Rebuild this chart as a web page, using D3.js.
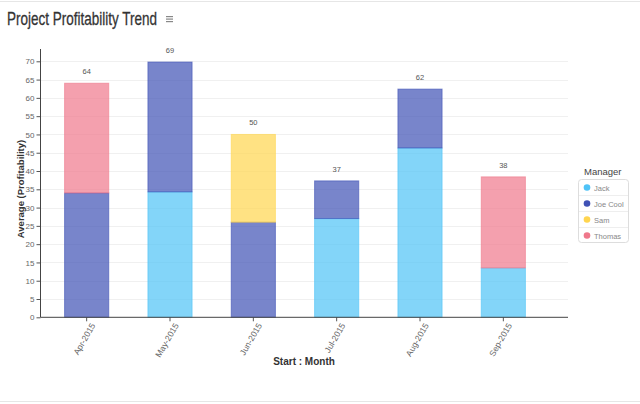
<!DOCTYPE html>
<html><head><meta charset="utf-8">
<script src="https://cdn.jsdelivr.net/npm/d3@7"></script>
<style>
body{margin:0;background:#fff;}
svg{display:block;font-family:"Liberation Sans",Arial,sans-serif;}
</style></head>
<body><svg id="c" width="640" height="404"></svg>
<script>
const months = ["Apr-2015","May-2015","Jun-2015","Jul-2015","Aug-2015","Sep-2015"];
const managers = ["Jack","Joe Cool","Sam","Thomas"];
const jack    = [0, 34.3, 0, 27.0, 46.3, 13.5];
const joeCool = [34.0, 35.5, 26.0, 10.3, 16.1, 0];
const sam     = [0, 0, 24.0, 0, 0, 0];
const thomas  = [30.0, 0, 0, 0, 0, 24.9];
const colors  = ["#4fc3f7","#3f51b5","#ffd54f","#ef788b"];
const yTicks  = d3.range(0, 75, 5);

const series = [jack, joeCool, sam, thomas];
const rows = months.map((m,i)=>{const o={month:m}; managers.forEach((k,j)=>o[k]=series[j][i]); return o;});
const stack = d3.stack().keys(managers)(rows);

const svg = d3.select("#c");
svg.append("line").attr("x1",0).attr("x2",640).attr("y1",1.5).attr("y2",1.5).attr("stroke","#e6e6e6");
svg.append("line").attr("x1",0).attr("x2",640).attr("y1",401.5).attr("y2",401.5).attr("stroke","#e6e6e6");

const x0=40.5, x1=568, yBottom=317.3;
const x = d3.scaleBand().domain(months).range([45,545]).paddingInner(0.47).paddingOuter(0.235);
const y = d3.scaleLinear().domain([0,70]).range([yBottom,61.3]);

svg.append("g").selectAll("line").data(yTicks.filter(d=>d>0)).join("line")
  .attr("x1",x0).attr("x2",x1).attr("y1",d=>Math.round(y(d))+0.5).attr("y2",d=>Math.round(y(d))+0.5)
  .attr("stroke","#f0f0f0");

const g = svg.append("g");
stack.forEach((s,j)=>{
  g.selectAll(null).data(s.filter(d=>d[1]-d[0]>0)).join("rect")
    .attr("x",d=>x(d.data.month)).attr("width",x.bandwidth())
    .attr("y",d=>y(d[1])).attr("height",d=>y(d[0])-y(d[1]))
    .attr("fill",colors[j]).attr("fill-opacity",0.7)
    .attr("stroke",colors[j]).attr("stroke-opacity",0.6).attr("stroke-width",1);
});

const totals = months.map((m,i)=>series.reduce((a,s)=>a+s[i],0));
svg.append("g").selectAll("text").data(months).join("text")
  .attr("x",d=>x(d)+x.bandwidth()/2).attr("y",(d,i)=>y(totals[i])-9)
  .attr("text-anchor","middle").attr("font-size",7.5).attr("fill","#555")
  .text((d,i)=>Math.floor(totals[i]));

const ya = svg.append("g").attr("transform",`translate(${x0},0)`)
  .call(d3.axisLeft(y).tickValues(yTicks).tickSize(4).tickPadding(2));
ya.select(".domain").remove();
ya.selectAll(".tick line").attr("stroke","#555");
ya.selectAll(".tick text").attr("font-size",8).attr("fill","#666").attr("font-family","Liberation Sans,Arial,sans-serif");
svg.append("line").attr("x1",x0).attr("x2",x0).attr("y1",49).attr("y2",yBottom).attr("stroke","#444");

const xa = svg.append("g").attr("transform",`translate(0,${yBottom})`)
  .call(d3.axisBottom(x).tickSize(4).tickSizeOuter(0));
xa.select(".domain").remove();
xa.selectAll(".tick line").attr("stroke","#555");
xa.selectAll(".tick text").attr("font-size",8.5).attr("fill","#666").attr("font-family","Liberation Sans,Arial,sans-serif")
  .attr("text-anchor","end").attr("dy",0).attr("y",0)
  .attr("transform","translate(9,8) rotate(-60)");
svg.append("line").attr("x1",x0).attr("x2",x1).attr("y1",yBottom).attr("y2",yBottom).attr("stroke","#444");

svg.append("text").attr("transform","translate(23.5,189) rotate(-90)").attr("text-anchor","middle")
  .attr("font-size",9.5).attr("font-weight","bold").attr("fill","#333").text("Average (Profitability)");
svg.append("text").attr("x",304).attr("y",365).attr("text-anchor","middle")
  .attr("font-size",10).attr("font-weight","bold").attr("fill","#333").text("Start : Month");

svg.append("text").attr("x",7).attr("y",24.5).attr("font-size",19)
  .attr("textLength",150).attr("lengthAdjust","spacingAndGlyphs")
  .attr("fill","#333").attr("stroke","#333").attr("stroke-width",0.3).text("Project Profitability Trend");
const menu = svg.append("g").attr("transform","translate(166,16)");
[0,2.5,5].forEach(d=>menu.append("rect").attr("x",0).attr("y",d).attr("width",7).attr("height",1.2).attr("fill","#888"));

const lg = svg.append("g");
lg.append("text").attr("x",584).attr("y",175).attr("font-size",9.5).attr("fill","#444").text("Manager");
lg.append("rect").attr("x",578.5).attr("y",179.5).attr("width",50).attr("height",63).attr("rx",3)
  .attr("fill","#fff").attr("stroke","#ddd");
managers.forEach((m,i)=>{
  const cy = 187.5 + i*16;
  if(i>0) lg.append("line").attr("x1",579).attr("x2",628).attr("y1",cy-8).attr("y2",cy-8).attr("stroke","#eee");
  lg.append("circle").attr("cx",587).attr("cy",cy).attr("r",3.3).attr("fill",colors[i]);
  lg.append("text").attr("x",594).attr("y",cy+3).attr("font-size",7.5).attr("fill","#888").text(m);
});
</script></body></html>
